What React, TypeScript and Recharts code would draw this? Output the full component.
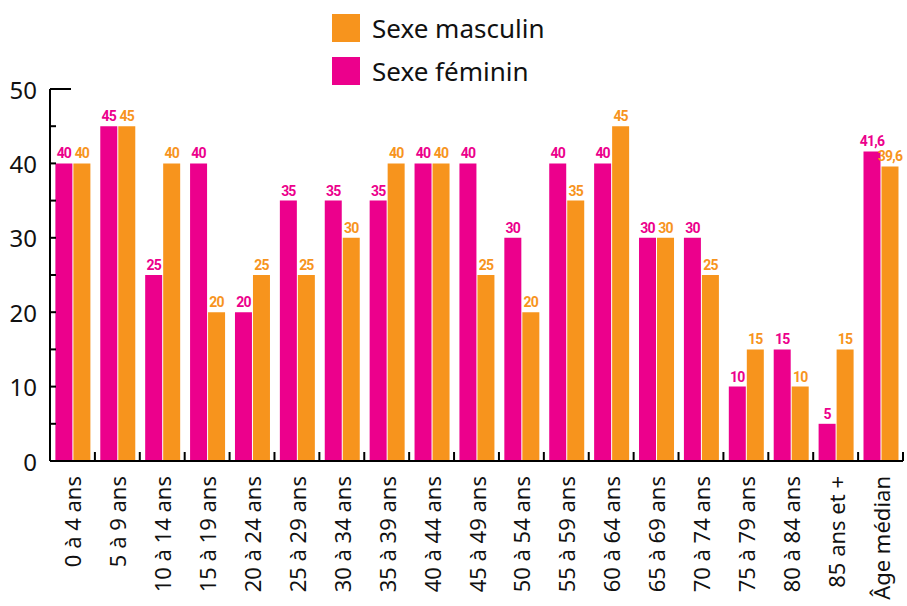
import React from 'react';
import { BarChart, Bar, XAxis, YAxis, LabelList } from 'recharts';

const categories = [
  '0 à 4 ans', '5 à 9 ans', '10 à 14 ans', '15 à 19 ans', '20 à 24 ans',
  '25 à 29 ans', '30 à 34 ans', '35 à 39 ans', '40 à 44 ans', '45 à 49 ans',
  '50 à 54 ans', '55 à 59 ans', '60 à 64 ans', '65 à 69 ans', '70 à 74 ans',
  '75 à 79 ans', '80 à 84 ans', '85 ans et +', 'Âge médian',
];
const feminin = [40, 45, 25, 40, 20, 35, 35, 35, 40, 40, 30, 40, 40, 30, 30, 10, 15, 5, 41.6];
const masculin = [40, 45, 40, 20, 25, 25, 30, 40, 40, 25, 20, 35, 45, 30, 25, 15, 10, 15, 39.6];
const yTicks = [0, 5, 10, 15, 20, 25, 30, 35, 40, 45, 50];

const PINK = '#EC008C';
const ORANGE = '#F7941D';
const FONT = '"Noto Sans", sans-serif';
const LABEL_FONT = 'Roboto, sans-serif';

const W = 907;
const H = 606;
const M = { top: 89, right: 4, left: 0, bottom: 0 };
const Y_W = 50;
const X_H = 145;
const step = (W - M.left - M.right - Y_W) / categories.length;

const data = categories.map((c, i) => ({ cat: c, f: feminin[i], m: masculin[i] }));

const fmt = (v: any) => String(v).replace('.', ',');

const YTick = (props: any) => {
  const { x, y, payload } = props;
  const v = payload.value;
  return (
    <g>
      {v > 0 && (
        <line x1={x} x2={x + (v === 50 ? 21 : 6)} y1={y} y2={y} stroke="#000" strokeWidth={2} />
      )}
      {v % 10 === 0 && (
        <text x={x - 13} y={y} textAnchor="end" dominantBaseline="central" fontSize={24} fontFamily={FONT} fill="#111">
          {v}
        </text>
      )}
    </g>
  );
};

const XTick = (props: any) => {
  const { x, y, payload } = props;
  return (
    <g>
      <line x1={x + step / 2} x2={x + step / 2} y1={y} y2={y - 9} stroke="#000" strokeWidth={2} />
      <text
        transform={`translate(${x},${y + 15}) rotate(-90)`}
        textAnchor="end"
        dominantBaseline="central"
        fontSize={22}
        fontFamily={FONT}
        fill="#111"
      >
        {payload.value}
      </text>
    </g>
  );
};

const legendItems = [
  { c: ORANGE, t: 'Sexe masculin' },
  { c: PINK, t: 'Sexe féminin' },
];

const labelStyle = (c: string) => ({
  fill: c,
  fontSize: 14,
  fontWeight: 700,
  fontFamily: LABEL_FONT,
  letterSpacing: -0.8,
});

export default function App() {
  return (
    <div style={{ position: 'absolute', left: 0, top: 0, width: W, height: H, background: '#fff' }}>
      <div style={{ position: 'absolute', left: 332, top: 6, fontFamily: FONT, fontSize: 26, color: '#111', zIndex: 2 }}>
        {legendItems.map((it) => (
          <div key={it.t} style={{ display: 'flex', alignItems: 'center', height: 43 }}>
            <div style={{ width: 28, height: 28, background: it.c, marginRight: 12 }} />
            <span>{it.t}</span>
          </div>
        ))}
      </div>
      <BarChart width={W} height={H} data={data} margin={M} barCategoryGap="12%" barGap={1}>
        <YAxis
          type="number"
          domain={[0, 50]}
          ticks={yTicks}
          interval={0}
          width={Y_W}
          tickSize={0}
          tickMargin={0}
          tickLine={false}
          axisLine={{ stroke: '#000', strokeWidth: 2 }}
          tick={<YTick />}
        />
        <XAxis
          dataKey="cat"
          interval={0}
          height={X_H}
          tickSize={0}
          tickMargin={0}
          tickLine={false}
          axisLine={{ stroke: '#000', strokeWidth: 2 }}
          tick={<XTick />}
        />
        <Bar dataKey="f" fill={PINK} isAnimationActive={false}>
          <LabelList dataKey="f" position="top" offset={5} formatter={fmt} style={labelStyle(PINK)} />
        </Bar>
        <Bar dataKey="m" fill={ORANGE} isAnimationActive={false}>
          <LabelList dataKey="m" position="top" offset={5} formatter={fmt} style={labelStyle(ORANGE)} />
        </Bar>
      </BarChart>
    </div>
  );
}
